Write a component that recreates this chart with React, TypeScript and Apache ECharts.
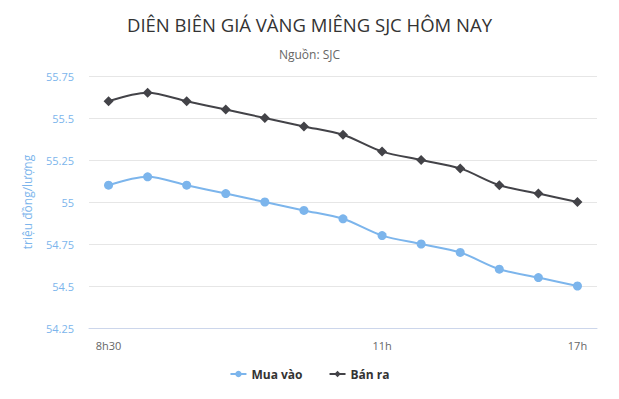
import React, { useEffect, useRef } from "react";
import * as echarts from "echarts";

const categories = ["8h30", "8h45", "9h", "9h15", "9h30", "9h45", "10h", "11h", "12h", "13h", "14h", "15h", "17h"];
const shownLabels = ["8h30", "11h", "17h"];
const muaVao = [55.1, 55.15, 55.1, 55.05, 55.0, 54.95, 54.9, 54.8, 54.75, 54.7, 54.6, 54.55, 54.5];
const banRa = [55.6, 55.65, 55.6, 55.55, 55.5, 55.45, 55.4, 55.3, 55.25, 55.2, 55.1, 55.05, 55.0];

const FONT = "'Open Sans', 'Noto Sans', sans-serif";

export default function App() {
  const ref = useRef<HTMLDivElement>(null);
  useEffect(() => {
    if (!ref.current) return;
    const chart = echarts.init(ref.current, null, { renderer: "svg" });
    chart.setOption({
      animation: false,
      backgroundColor: "#ffffff",
      textStyle: { fontFamily: FONT },
      title: {
        text: "DIÊN BIÊN GIÁ VÀNG MIÊNG SJC HÔM NAY",
        subtext: "Nguồn: SJC",
        left: "center",
        top: 10,
        itemGap: 14,
        textStyle: { fontSize: 18.5, fontWeight: "normal", color: "#333333", fontFamily: FONT },
        subtextStyle: { fontSize: 12, color: "#666666", fontFamily: FONT },
      },
      grid: { left: 89, right: 22, top: 76, bottom: 71, containLabel: false },
      legend: {
        bottom: 14,
        left: "center",
        itemWidth: 16,
        itemHeight: 8,
        itemGap: 26,
        textStyle: { fontSize: 12, fontWeight: "bold", color: "#333333", fontFamily: FONT },
        data: ["Mua vào", "Bán ra"],
      },
      xAxis: {
        type: "category",
        data: categories,
        boundaryGap: true,
        axisLine: { lineStyle: { color: "#ccd6eb" } },
        axisTick: { show: false },
        axisLabel: {
          interval: 0,
          color: "#666666",
          fontSize: 11,
          margin: 12,
          formatter: (v: string) => (shownLabels.includes(v) ? v : ""),
        },
      },
      yAxis: {
        type: "value",
        min: 54.25,
        max: 55.75,
        interval: 0.25,
        name: "triệu đồng/lượng",
        nameLocation: "middle",
        nameRotate: 90,
        nameGap: 56,
        nameTextStyle: { color: "#7cb5ec", fontSize: 12, fontFamily: FONT },
        axisLine: { show: false },
        axisTick: { show: false },
        axisLabel: {
          color: "#7cb5ec",
          fontSize: 11,
          margin: 15,
          formatter: (v: number) => String(parseFloat(v.toFixed(2))),
        },
        splitLine: { lineStyle: { color: "#e6e6e6" } },
      },
      series: [
        {
          name: "Mua vào",
          type: "line",
          data: muaVao,
          smooth: 0.3,
          symbol: "circle",
          symbolSize: 9,
          itemStyle: { color: "#7cb5ec" },
          lineStyle: { color: "#7cb5ec", width: 2 },
        },
        {
          name: "Bán ra",
          type: "line",
          data: banRa,
          smooth: 0.3,
          symbol: "diamond",
          symbolSize: 10,
          itemStyle: { color: "#434348" },
          lineStyle: { color: "#434348", width: 2 },
        },
      ],
    });
    return () => chart.dispose();
  }, []);
  return <div ref={ref} style={{ width: 619, height: 399, position: "absolute", left: 0, top: 0 }} />;
}
